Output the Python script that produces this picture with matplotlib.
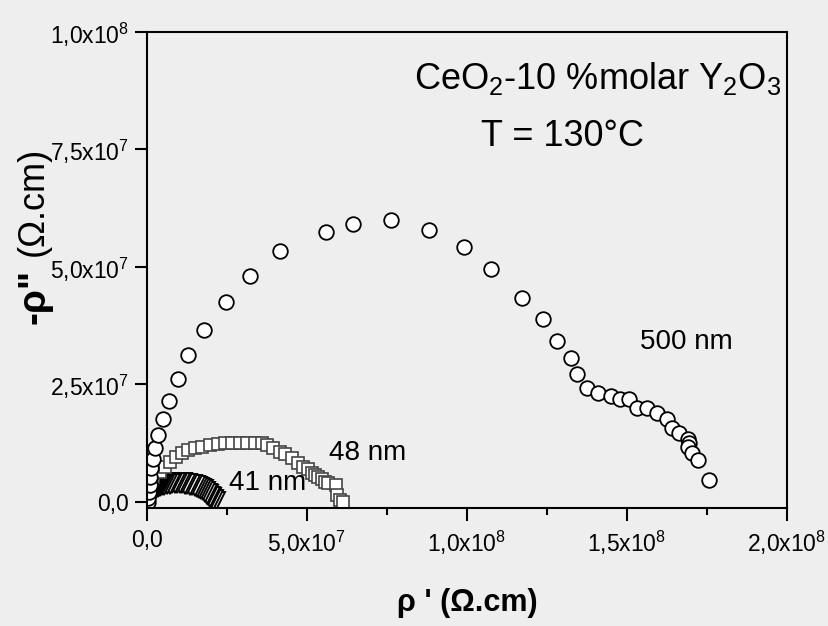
import matplotlib
matplotlib.use("Agg")
import matplotlib.pyplot as plt
from matplotlib.ticker import FixedLocator

plt.rcParams['font.family'] = ['Liberation Sans', 'DejaVu Sans']
plt.rcParams['mathtext.fontset'] = 'custom'
plt.rcParams['mathtext.rm'] = 'Liberation Sans'
plt.rcParams['mathtext.it'] = 'Liberation Sans'

# 500 nm sample (circles), values in ohm.cm
x500 = [0.3e6, 0.3e6, 0.6e6, 0.9e6, 0.9e6, 1.25e6, 1.9e6, 2.5e6, 3.4e6, 5.0e6,
        6.9e6, 9.7e6, 12.8e6, 17.8e6, 24.7e6, 32.2e6, 41.6e6, 55.9e6, 64.4e6, 76.3e6,
        88.1e6, 99.1e6, 107.5e6, 117.2e6, 123.8e6, 128.1e6, 132.5e6, 134.4e6, 137.5e6, 140.9e6,
        145.0e6, 147.8e6, 150.6e6, 153.1e6, 156.3e6, 159.4e6, 162.5e6, 164.1e6, 166.3e6, 169.1e6,
        169.4e6, 169.1e6, 170.3e6, 172.2e6, 175.6e6]
y500 = [0.0, 0.85e6, 2.1e6, 3.6e6, 5.3e6, 7.2e6, 9.1e6, 11.5e6, 14.3e6, 17.7e6,
        21.5e6, 26.2e6, 31.3e6, 36.6e6, 42.6e6, 48.1e6, 53.4e6, 57.4e6, 59.1e6, 60.0e6,
        57.9e6, 54.3e6, 49.6e6, 43.4e6, 38.9e6, 34.3e6, 30.6e6, 27.2e6, 24.3e6, 23.2e6,
        22.6e6, 21.9e6, 21.9e6, 20.0e6, 20.0e6, 18.9e6, 17.7e6, 15.7e6, 14.7e6, 13.4e6,
        12.6e6, 11.7e6, 10.4e6, 8.9e6, 4.7e6]

# 48 nm sample (squares)
x48 = [0.3e6, 0.3e6, 0.6e6, 0.9e6, 1.9e6, 4.1e6, 5.6e6, 7.2e6, 9.1e6, 10.9e6,
       12.8e6, 15.0e6, 17.2e6, 19.7e6, 22.2e6, 24.4e6, 26.6e6, 29.1e6, 31.3e6, 33.8e6,
       35.9e6, 37.5e6, 39.4e6, 41.6e6, 43.1e6, 45.3e6, 47.2e6, 48.8e6, 50.3e6, 51.6e6,
       52.5e6, 53.4e6, 54.7e6, 55.6e6, 56.6e6, 59.1e6, 59.4e6, 60.3e6, 61.3e6]
y48 = [0.0, 1.1e6, 2.3e6, 3.6e6, 5.3e6, 6.4e6, 7.4e6, 8.5e6, 9.6e6, 10.4e6,
       11.1e6, 11.5e6, 11.7e6, 12.1e6, 12.3e6, 12.6e6, 12.6e6, 12.6e6, 12.6e6, 12.6e6,
       12.6e6, 12.1e6, 11.5e6, 10.6e6, 10.2e6, 9.4e6, 8.3e6, 7.4e6, 7.0e6, 6.2e6,
       5.7e6, 5.3e6, 4.9e6, 4.3e6, 4.0e6, 3.6e6, 1.5e6, 0.4e6, 0.0]

# 41 nm sample (dense triangles), listed from high to low frequency end
x41 = [21.3e6, 20.6e6, 20.0e6, 19.7e6, 19.1e6, 18.8e6, 18.1e6, 17.5e6, 16.9e6, 16.3e6,
       15.6e6, 15.0e6, 14.1e6, 13.4e6, 12.5e6, 11.9e6, 10.9e6, 10.3e6, 9.4e6, 8.8e6,
       7.8e6, 7.2e6, 6.3e6, 5.3e6, 4.7e6, 4.1e6, 3.4e6, 2.8e6, 2.2e6, 1.6e6,
       1.25e6, 0.9e6, 0.6e6, 0.3e6, 0.3e6]
y41 = [0.0, 0.4e6, 0.85e6, 1.1e6, 1.5e6, 1.7e6, 2.1e6, 2.45e6, 2.8e6, 3.0e6,
       3.2e6, 3.4e6, 3.6e6, 3.7e6, 3.8e6, 3.9e6, 3.95e6, 4.0e6, 4.0e6, 4.0e6,
       3.95e6, 3.9e6, 3.8e6, 3.7e6, 3.6e6, 3.4e6, 3.2e6, 3.0e6, 2.8e6, 2.45e6,
       2.1e6, 1.7e6, 1.1e6, 0.6e6, 0.0]

xticks = [0, 5e7, 1e8, 1.5e8, 2e8]
xticklabels = ['0,0', '5,0x$10^7$', '1,0x$10^8$', '1,5x$10^8$', '2,0x$10^8$']
yticks = [0, 2.5e7, 5e7, 7.5e7, 1e8]
yticklabels = ['0,0', '2,5x$10^7$', '5,0x$10^7$', '7,5x$10^7$', '1,0x$10^8$']

bg = '#eeeeee'
fig = plt.figure(figsize=(8.29, 6.26), dpi=100, facecolor=bg)
ax = fig.add_axes([0.1773, 0.1885, 0.772, 0.7604], facecolor=bg)

ax.plot(x41, y41, linestyle='none', marker='v', markersize=15, markerfacecolor='white',
        markeredgecolor='black', markeredgewidth=1.4)
ax.plot(x48, y48, linestyle='none', marker='s', markersize=8, markerfacecolor='white',
        markeredgecolor='#444444', markeredgewidth=1.2)
ax.plot(x500, y500, linestyle='none', marker='o', markersize=10.5, markerfacecolor='white',
        markeredgecolor='black', markeredgewidth=1.3)

ax.set_xlim(0, 2e8)
ax.set_ylim(-1.3e6, 1e8)
ax.xaxis.set_major_locator(FixedLocator(xticks))
ax.set_xticklabels(xticklabels)
ax.xaxis.set_minor_locator(FixedLocator([2.5e7, 7.5e7, 1.25e8, 1.75e8]))
ax.yaxis.set_major_locator(FixedLocator(yticks))
ax.set_yticklabels(yticklabels)

for s in ax.spines.values():
    s.set_linewidth(1.5)
ax.tick_params(axis='both', which='major', direction='out', length=9, width=1.5,
               labelsize=16.5, pad=4)
ax.tick_params(axis='x', which='minor', direction='out', length=5, width=1.5)
ax.tick_params(axis='x', which='major', pad=6)

ax.text(0.705, 0.902, 'CeO$_2$-10 %molar Y$_2$O$_3$', transform=ax.transAxes,
        fontsize=26, ha='center', va='center')
ax.text(0.65, 0.78, 'T = 130°C', transform=ax.transAxes, fontsize=26,
        ha='center', va='center')

ax.text(1.685e8, 3.4e7, '500 nm', fontsize=20, ha='center', va='center')
ax.text(0.69e8, 1.05e7, '48 nm', fontsize=20, ha='center', va='center')
ax.text(0.378e8, 4.0e6, '41 nm', fontsize=20, ha='center', va='center')

fig.text(0.5635, 0.037, "ρ ' (Ω.cm)", fontsize=22, fontweight='bold',
         ha='center', va='center')
fig.text(0.042, 0.527, '-ρ"', fontsize=28, fontweight='bold', rotation=90,
         ha='center', va='center')
fig.text(0.040, 0.679, '(Ω.cm)', fontsize=26, rotation=90,
         ha='center', va='center')

fig.savefig('out.png', dpi=100, facecolor=bg)
